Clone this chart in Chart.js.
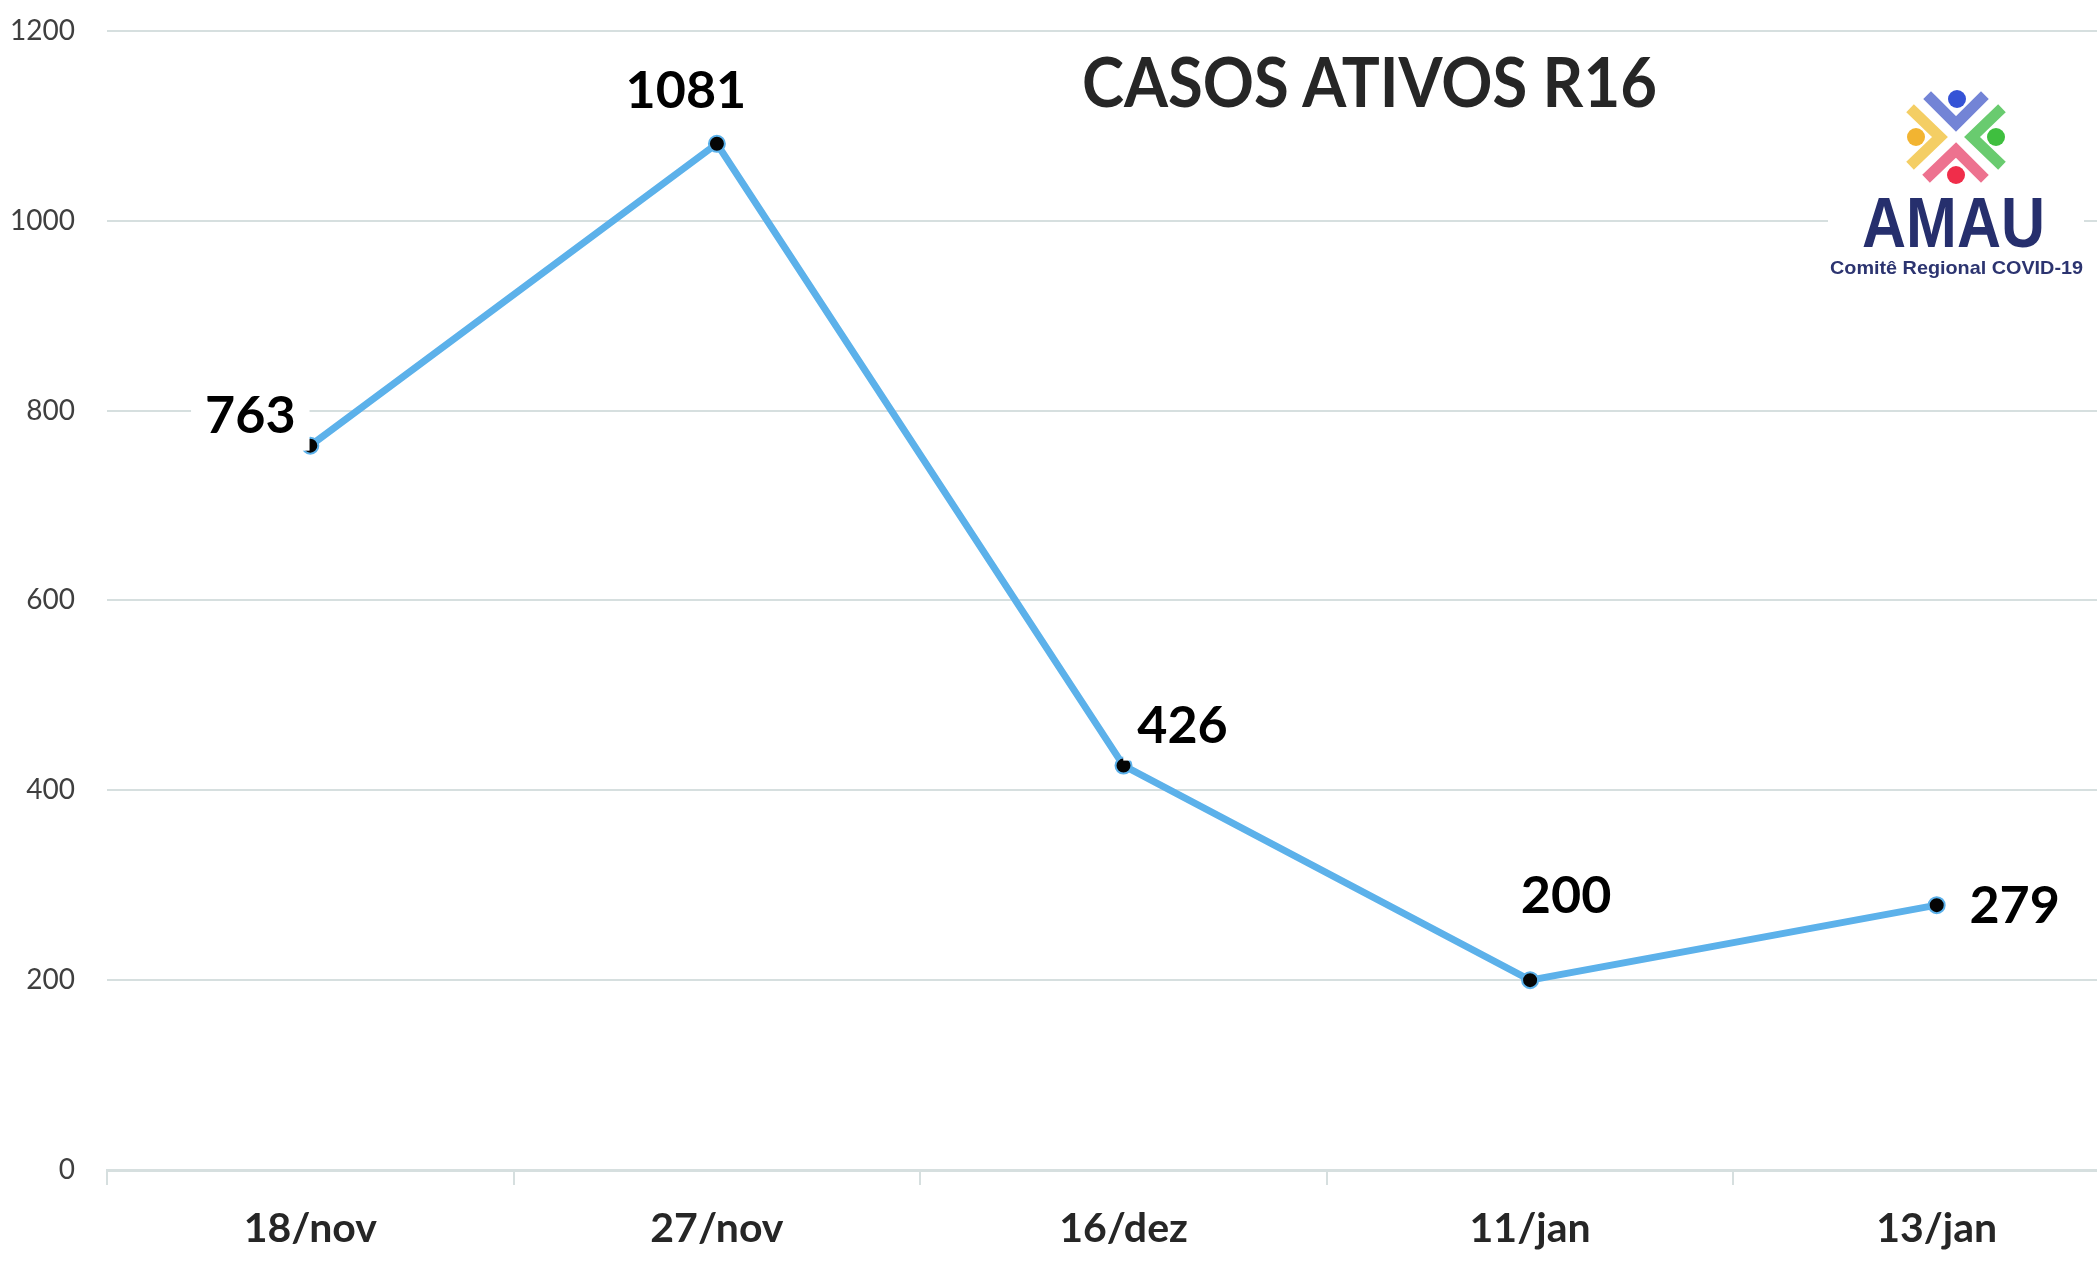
<!DOCTYPE html>
<html>
  <head>
    <title>CASOS ATIVOS R16</title>
    <script src="https://cdn.jsdelivr.net/npm/chart.js"></script>
    <style>
      html,
      body {
        margin: 0;
        padding: 0;
        background: #ffffff;
        overflow: hidden;
      }

      .chart-container {
        position: absolute;
        left: 0;
        top: -18px;
        width: 2150px;
        height: 1281px;
      }

      .overlay {
        position: absolute;
        left: 0;
        top: 0;
        width: 2097px;
        height: 1263px;
        pointer-events: none;
      }
    </style>
  </head>
  <body>
    <div class="chart-container">
      <canvas id="myChart"></canvas>
    </div>

    <svg class="overlay" width="2097" height="1263">
      <text x="1082" y="107" textLength="575" lengthAdjust="spacingAndGlyphs"
        font-family="Lato" font-weight="bold" font-size="68" fill="#262626">CASOS ATIVOS R16</text>

      <!-- logo -->
      <rect x="1828" y="80" width="256" height="206" fill="#ffffff" />
      <g stroke-width="11" fill="none" stroke-linecap="square" opacity="0.85">
        <polyline points="1931,99 1956,124 1981,99" stroke="#5b6fd0" />
        <polyline points="1914,112 1940,137 1914,162" stroke="#f3c64a" />
        <polyline points="1998,112 1972,137 1998,162" stroke="#4fc356" />
        <polyline points="1930,175 1956,150 1981,175" stroke="#ea5a7c" />
      </g>
      <circle cx="1957" cy="99" r="9" fill="#3553d6" />
      <circle cx="1916" cy="137" r="9" fill="#f2b431" />
      <circle cx="1996" cy="137" r="9" fill="#3fbf3f" />
      <circle cx="1956" cy="175" r="9" fill="#f02d4a" />
      <text x="1862" y="247" textLength="183" lengthAdjust="spacingAndGlyphs"
        font-family="Liberation Sans" font-weight="bold" font-size="70" fill="#262f6d">AMAU</text>
      <text x="1830" y="274" textLength="253" lengthAdjust="spacingAndGlyphs"
        font-family="Liberation Sans" font-weight="bold" font-size="19" fill="#2c3470">Comitê Regional COVID-19</text>
    </svg>

    <script>
      const labels = ["18/nov", "27/nov", "16/dez", "11/jan", "13/jan"];
      const casosAtivos = [763, 1081, 426, 200, 279];
      const yMin = 0;
      const yMax = 1200;
      const yStep = 200;

      // where each value label sits relative to its point: [dx of text centre, dy of baseline]
      const labelOffsets = [
        [-60, -13],
        [-31, -36],
        [59, -23],
        [36, -67],
        [78, 18],
      ];

      const valueLabels = {
        id: "valueLabels",
        afterDatasetsDraw(chart) {
          const ctx = chart.ctx;
          const meta = chart.getDatasetMeta(0);
          ctx.save();
          ctx.font = "bold 52px Lato";
          ctx.textAlign = "center";
          ctx.textBaseline = "alphabetic";
          meta.data.forEach(function (pt, i) {
            const txt = String(chart.data.datasets[0].data[i]);
            const x = pt.x + labelOffsets[i][0];
            const y = pt.y + labelOffsets[i][1];
            const w = ctx.measureText(txt).width;
            ctx.fillStyle = "#ffffff";
            ctx.fillRect(x - w / 2 - 14, y - 50, w + 28, 68);
            ctx.fillStyle = "#000000";
            ctx.fillText(txt, x, y);
          });
          ctx.restore();
        },
      };

      const ctx = document.getElementById("myChart").getContext("2d");
      new Chart(ctx, {
        type: "line",
        data: {
          labels: labels,
          datasets: [
            {
              label: "Casos ativos",
              data: casosAtivos,
              borderColor: "#5cb1ea",
              borderWidth: 7,
              tension: 0,
              pointRadius: 8,
              pointBorderWidth: 2,
              pointBorderColor: "#5cb1ea",
              pointBackgroundColor: "#050505",
              fill: false,
            },
          ],
        },
        options: {
          responsive: true,
          maintainAspectRatio: false,
          animation: false,
          layout: {
            padding: { top: 12, right: 9, left: 0, bottom: 0 },
          },
          plugins: {
            legend: { display: false },
            tooltip: { enabled: false },
          },
          scales: {
            x: {
              offset: true,
              afterFit: function (scale) {
                scale.height = 93;
              },
              border: { display: true, color: "#d6dfdf", width: 3 },
              grid: {
                offset: true,
                drawOnChartArea: false,
                drawTicks: true,
                tickLength: 15,
                color: "#d6dfdf",
                lineWidth: 2,
              },
              ticks: {
                color: "#262626",
                padding: 19,
                font: { family: "Lato", weight: "bold", size: 41 },
              },
            },
            y: {
              min: yMin,
              max: yMax,
              afterFit: function (scale) {
                scale.width = 107;
              },
              border: { display: false },
              grid: {
                drawTicks: false,
                color: "#d6dfdf",
                lineWidth: 2,
              },
              ticks: {
                stepSize: yStep,
                color: "#3f3f3f",
                padding: 32,
                font: { family: "Lato", size: 28 },
                callback: function (value) {
                  return String(value);
                },
              },
            },
          },
        },
        plugins: [valueLabels],
      });
    </script>
  </body>
</html>
